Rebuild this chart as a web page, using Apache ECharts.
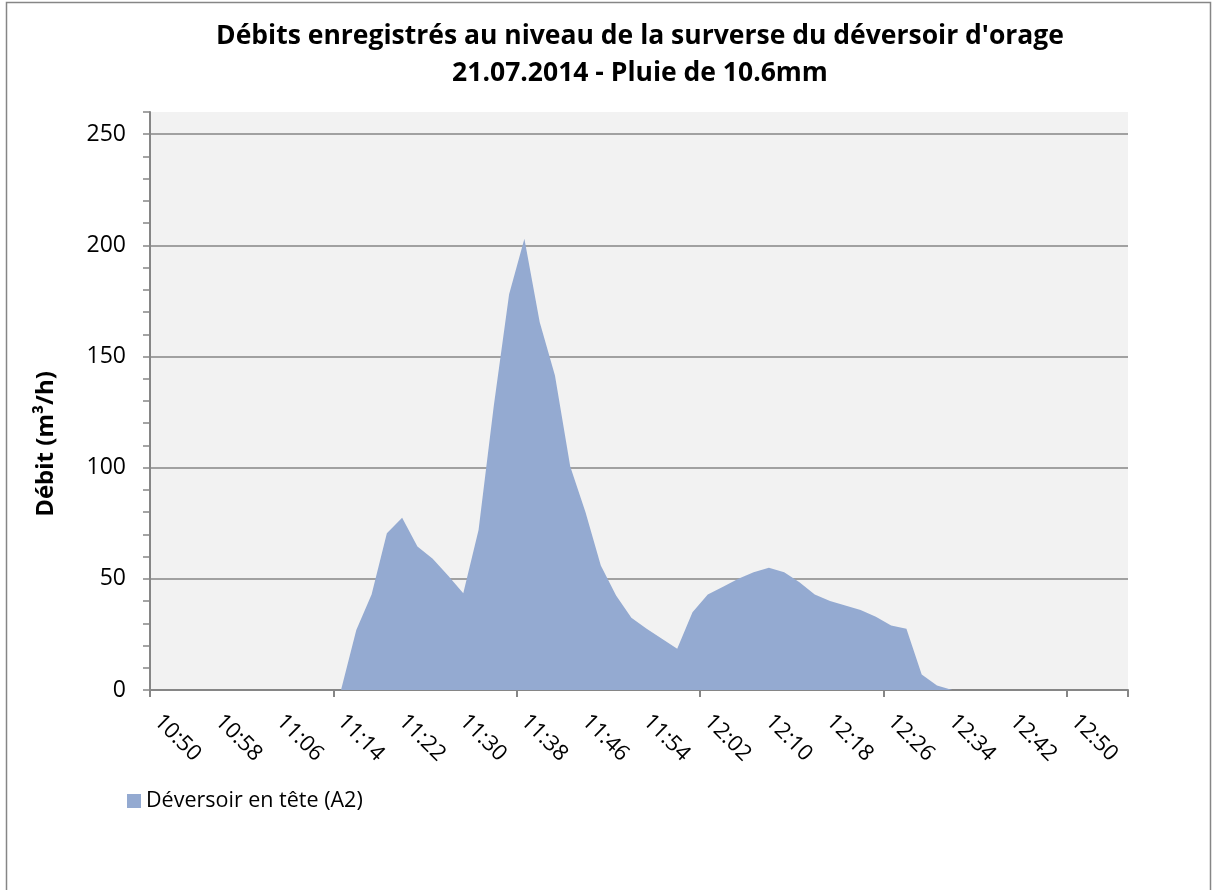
<!DOCTYPE html>
<html>
<head>
<meta charset="utf-8">
<script src="https://cdn.jsdelivr.net/npm/echarts@6/dist/echarts.min.js"></script>
<style>
  html, body { margin: 0; padding: 0; background: #fff; }
  #chart { width: 1213px; height: 890px; }
</style>
</head>
<body>
<div id="chart"></div>
<script>
// heures (pas de 2 min)
var heures = [
  '10:50', '10:52', '10:54', '10:56', '10:58', '11:00', '11:02', '11:04',
  '11:06', '11:08', '11:10', '11:12', '11:14', '11:16', '11:18', '11:20',
  '11:22', '11:24', '11:26', '11:28', '11:30', '11:32', '11:34', '11:36',
  '11:38', '11:40', '11:42', '11:44', '11:46', '11:48', '11:50', '11:52',
  '11:54', '11:56', '11:58', '12:00', '12:02', '12:04', '12:06', '12:08',
  '12:10', '12:12', '12:14', '12:16', '12:18', '12:20', '12:22', '12:24',
  '12:26', '12:28', '12:30', '12:32', '12:34', '12:36', '12:38', '12:40',
  '12:42', '12:44', '12:46', '12:48', '12:50', '12:52', '12:54', '12:56'
];

// Déversoir en tête (A2), m3/h
var debitA2 = [
  0, 0, 0, 0, 0, 0, 0, 0,
  0, 0, 0, 0, 0, 27, 43, 70.5,
  77.5, 64.5, 59, 51.5, 43.5, 72, 128, 178,
  203, 165.5, 141.5, 100.5, 80, 56, 42.5, 32.5,
  27.5, 23, 18.5, 35, 43, 46.5, 50, 53,
  55, 53, 48.5, 43, 40, 38, 36, 33,
  29, 27.5, 7, 2, 0, 0, 0, 0,
  0, 0, 0, 0, 0, 0, 0, 0
];

var grisAxe = '#868686';
var police = 'Open Sans';

var chart = echarts.init(document.getElementById('chart'));
chart.setOption({
  animation: false,
  textStyle: { fontFamily: police },
  graphic: [{
    type: 'rect',
    shape: { x: 6.5, y: 2.5, width: 1204, height: 900 },
    style: { fill: 'none', stroke: grisAxe, lineWidth: 1.5 },
    silent: true
  }],
  title: {
    text: "Débits enregistrés au niveau de la surverse du déversoir d'orage\n21.07.2014 - Pluie de 10.6mm",
    left: 640,
    top: 18,
    textAlign: 'center',
    padding: 0,
    textStyle: {
      fontFamily: police,
      fontWeight: 'bold',
      fontSize: 26.5,
      lineHeight: 37,
      color: '#000'
    }
  },
  legend: {
    left: 122,
    top: 785,
    icon: 'rect',
    itemWidth: 14,
    itemHeight: 14,
    itemGap: 6,
    textStyle: { fontFamily: police, fontSize: 21.5, color: '#000' },
    data: ['Déversoir en tête (A2)']
  },
  grid: {
    left: 150,
    right: 85,
    top: 112,
    bottom: 200,
    show: true,
    backgroundColor: '#f2f2f2',
    borderWidth: 0
  },
  xAxis: {
    type: 'category',
    data: heures,
    boundaryGap: true,
    axisLine: { lineStyle: { color: grisAxe, width: 2 } },
    axisTick: { show: true, interval: 11, length: 7, lineStyle: { color: grisAxe, width: 2 } },
    axisLabel: {
      interval: 3,
      rotate: -45,
      margin: 28,
      fontSize: 22,
      color: '#000',
      fontFamily: police
    },
    splitLine: { show: false }
  },
  yAxis: [{
    type: 'value',
    min: 0,
    max: 260,
    interval: 50,
    name: 'Débit (m³/h)',
    nameLocation: 'middle',
    nameGap: 92,
    nameTextStyle: {
      fontFamily: police,
      fontWeight: 'bold',
      fontSize: 24,
      color: '#000',
      padding: [0, 86, 0, 0]
    },
    axisLine: { show: true, lineStyle: { color: grisAxe, width: 2 } },
    axisTick: { show: false },
    axisLabel: {
      margin: 24,
      fontSize: 23,
      color: '#000',
      fontFamily: police,
      showMaxLabel: false
    },
    splitLine: {
      show: true,
      showMinLine: false,
      showMaxLine: false,
      lineStyle: { color: grisAxe, width: 1.5 }
    }
  }, {
    type: 'value',
    min: 0,
    max: 260,
    interval: 10,
    position: 'left',
    axisLine: { show: false },
    axisTick: { show: true, length: 7, lineStyle: { color: grisAxe, width: 1.5 } },
    axisLabel: { show: false },
    splitLine: { show: false }
  }],
  series: [{
    name: 'Déversoir en tête (A2)',
    type: 'line',
    yAxisIndex: 0,
    data: debitA2,
    symbol: 'none',
    itemStyle: { color: '#94aad1' },
    lineStyle: { width: 0 },
    areaStyle: { color: '#94aad1', opacity: 1 }
  }]
});
</script>
</body>
</html>
